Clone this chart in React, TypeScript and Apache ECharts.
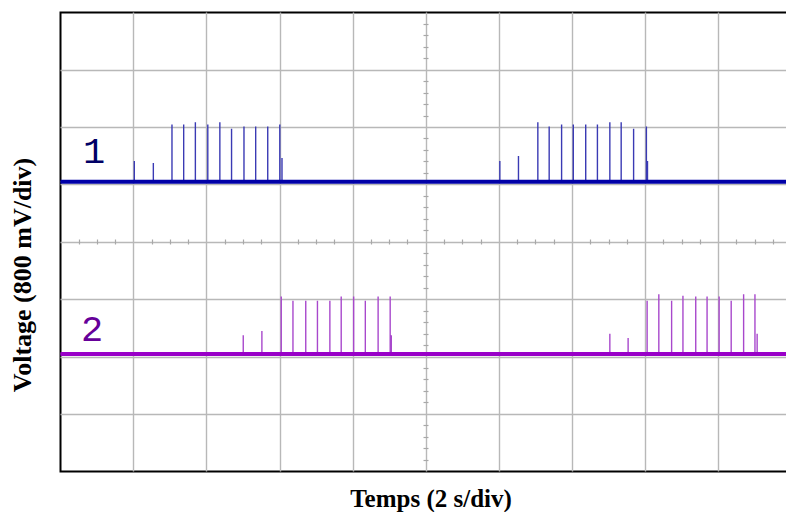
import React, { useEffect, useRef } from "react";
import * as echarts from "echarts";

// Time axis: 2 s/div, 10 divisions. Voltage axis: 800 mV/div, 8 divisions.
const X_MIN = 0;
const X_MAX = 20;
const X_DIV = 2;
const Y_MIN = 0;
const Y_MAX = 6.4;
const Y_DIV = 0.8;

// Channel baselines (V, in screen offset units)
const CH1_OFFSET = 4.04;
const CH2_OFFSET = 1.64;

// Channel 1 pulses: time (s) and amplitude (V)
const CH1_TIMES = [2.02, 2.54, 3.05, 3.37, 3.69, 4.03, 4.36, 4.68, 5.02, 5.34, 5.67, 6.0, 6.06,
  12.02, 12.53, 13.06, 13.37, 13.71, 14.03, 14.37, 14.69, 15.03, 15.34, 15.68, 16.03, 16.06];
const CH1_AMPS = [0.29, 0.26, 0.8, 0.8, 0.83, 0.8, 0.83, 0.74, 0.77, 0.77, 0.77, 0.8, 0.33,
  0.29, 0.36, 0.83, 0.77, 0.8, 0.8, 0.8, 0.8, 0.83, 0.83, 0.74, 0.77, 0.29];

// Channel 2 pulses: time (s) and amplitude (V)
const CH2_TIMES = [5.0, 5.51, 6.04, 6.36, 6.71, 7.03, 7.37, 7.68, 8.02, 8.34, 8.69, 9.02, 9.05,
  15.03, 15.53, 16.05, 16.37, 16.72, 17.03, 17.38, 17.69, 18.02, 18.35, 18.69, 19.0, 19.06];
const CH2_AMPS = [0.26, 0.32, 0.8, 0.74, 0.74, 0.74, 0.74, 0.8, 0.8, 0.74, 0.8, 0.8, 0.26,
  0.28, 0.22, 0.74, 0.83, 0.74, 0.81, 0.8, 0.8, 0.8, 0.74, 0.83, 0.83, 0.28];

const CHANNEL_LABELS = ["1", "2"];
const X_TITLE = "Temps (2 s/div)";
const Y_TITLE = "Voltage (800 mV/div)";

function pulseTrace(times: number[], amps: number[], offset: number) {
  const pts: [number, number][] = [[X_MIN, offset]];
  times.forEach((t, i) => {
    pts.push([t, offset]);
    pts.push([t, offset + amps[i]]);
    pts.push([t, offset]);
  });
  pts.push([X_MAX, offset]);
  return pts;
}

const GRID_LEFT = 60.5;
const GRID_TOP = 12.5;
const GRID_W = 731;
const GRID_H = 459;

export default function App() {
  const ref = useRef<HTMLDivElement>(null);
  useEffect(() => {
    if (!ref.current) return;
    const chart = echarts.init(ref.current, null, { renderer: "svg" });
    const gridColor = "#b8b8b8";
    const minorX = {
      show: true,
      splitNumber: 4,
      length: 2.5,
      lineStyle: { color: "#a8a8a8", width: 1.2 },
    };
    const minorY = { ...minorX, splitNumber: 5 };
    const split = {
      show: true,
      showMinLine: false,
      showMaxLine: false,
      lineStyle: { color: gridColor, width: 1.4 },
    };
    const baseX = {
      type: "value" as const,
      min: X_MIN,
      max: X_MAX,
      interval: X_DIV,
      axisLine: { show: false },
      axisTick: { show: false },
      axisLabel: { show: false },
    };
    const baseY = {
      type: "value" as const,
      min: Y_MIN,
      max: Y_MAX,
      interval: Y_DIV,
      axisLine: { show: false },
      axisTick: { show: false },
      axisLabel: { show: false },
    };
    chart.setOption({
      animation: false,
      grid: {
        left: GRID_LEFT,
        top: GRID_TOP,
        width: GRID_W,
        height: GRID_H,
        outerBoundsMode: "none",
        containLabel: false,
        show: true,
        borderColor: "#000",
        borderWidth: 2,
        backgroundColor: "transparent",
      },
      xAxis: [
        {
          ...baseX,
          position: "bottom",
          offset: -GRID_H / 2,
          splitLine: split,
          minorTick: minorX,
        },
        {
          ...baseX,
          position: "top",
          offset: -GRID_H / 2,
          splitLine: { show: false },
          minorTick: minorX,
        },
      ],
      yAxis: [
        {
          ...baseY,
          position: "left",
          offset: -GRID_W / 2,
          splitLine: split,
          minorTick: minorY,
        },
        {
          ...baseY,
          position: "right",
          offset: -GRID_W / 2,
          splitLine: { show: false },
          minorTick: minorY,
        },
      ],
      series: [
        {
          type: "line",
          xAxisIndex: 0,
          yAxisIndex: 0,
          data: pulseTrace(CH1_TIMES, CH1_AMPS, CH1_OFFSET),
          showSymbol: false,
          lineStyle: { color: "#3a3ab4", width: 1.4 },
          z: 3,
        },
        {
          type: "line",
          xAxisIndex: 0,
          yAxisIndex: 0,
          data: [[X_MIN, CH1_OFFSET], [X_MAX, CH1_OFFSET]],
          showSymbol: false,
          lineStyle: { color: "#0000a8", width: 4 },
          z: 4,
        },
        {
          type: "line",
          xAxisIndex: 0,
          yAxisIndex: 0,
          data: pulseTrace(CH2_TIMES, CH2_AMPS, CH2_OFFSET),
          showSymbol: false,
          lineStyle: { color: "#a848cc", width: 1.4 },
          z: 3,
        },
        {
          type: "line",
          xAxisIndex: 0,
          yAxisIndex: 0,
          data: [[X_MIN, CH2_OFFSET], [X_MAX, CH2_OFFSET]],
          showSymbol: false,
          lineStyle: { color: "#9900c8", width: 4 },
          z: 4,
        },
      ],
      graphic: [
        {
          type: "text",
          x: 94,
          y: 153,
          style: {
            text: CHANNEL_LABELS[0],
            fill: "#000066",
            font: "37px 'Liberation Mono', monospace",
            align: "center",
            verticalAlign: "middle",
          },
        },
        {
          type: "text",
          x: 92,
          y: 331,
          style: {
            text: CHANNEL_LABELS[1],
            fill: "#660099",
            font: "37px 'Liberation Mono', monospace",
            align: "center",
            verticalAlign: "middle",
          },
        },
        {
          type: "text",
          x: 431,
          y: 498,
          style: {
            text: X_TITLE,
            fill: "#000",
            font: "bold 25px 'Liberation Serif', 'Times New Roman', serif",
            align: "center",
            verticalAlign: "middle",
          },
        },
        {
          type: "text",
          x: 22,
          y: 275,
          rotation: Math.PI / 2,
          style: {
            text: Y_TITLE,
            fill: "#000",
            font: "bold 26px 'Liberation Serif', 'Times New Roman', serif",
            align: "center",
            verticalAlign: "middle",
          },
        },
      ],
    });
    return () => chart.dispose();
  }, []);
  return (
    <div
      ref={ref}
      style={{ position: "fixed", left: 0, top: 0, width: 786, height: 512, background: "#fff" }}
    />
  );
}
